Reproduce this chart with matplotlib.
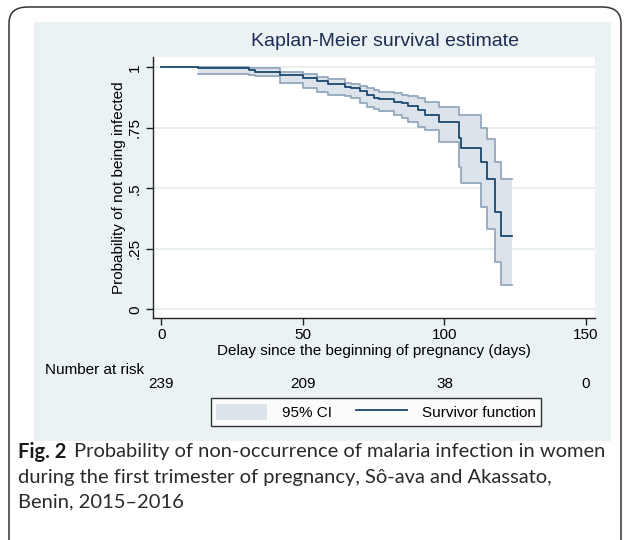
import numpy as np
import matplotlib
matplotlib.use("Agg")
import matplotlib.pyplot as plt
from matplotlib.patches import FancyBboxPatch, Rectangle
from matplotlib.lines import Line2D
import matplotlib.transforms as mtransforms

plt.rcParams['font.family'] = ['Liberation Sans', 'DejaVu Sans']

# ---- data ----
times = [0, 13, 31, 33, 42, 50, 55, 59, 65, 67, 70, 72.5, 75, 77, 82, 85, 87,
         90.5, 93, 98, 105, 106, 113, 115, 118, 120]
survival = [1.0, 0.996, 0.990, 0.983, 0.968, 0.957, 0.945, 0.930, 0.920, 0.913,
            0.903, 0.886, 0.873, 0.868, 0.858, 0.851, 0.840, 0.824, 0.805, 0.773,
            0.709, 0.665, 0.608, 0.538, 0.403, 0.303]
ci_lower = [np.nan, 0.971, 0.968, 0.965, 0.936, 0.916, 0.899, 0.886, 0.881, 0.872,
            0.854, 0.837, 0.830, 0.819, 0.803, 0.792, 0.775, 0.755, 0.743, 0.693,
            0.589, 0.523, 0.424, 0.333, 0.195, 0.100]
ci_upper = [np.nan, 1.0, 0.999, 0.997, 0.982, 0.972, 0.961, 0.950, 0.936, 0.932,
            0.923, 0.913, 0.905, 0.900, 0.893, 0.886, 0.880, 0.872, 0.858, 0.837,
            0.805, 0.803, 0.748, 0.702, 0.610, 0.537]
end_time = 124
risk_times = [0, 50, 100, 150]
risk_numbers = [239, 209, 38, 0]
x_ticks = [0, 50, 100, 150]
y_ticks = [0, 0.25, 0.5, 0.75, 1]
y_ticklabels = ["0", ".25", ".5", ".75", "1"]

NAVY = "#1a476f"
FILL = "#dde3ea"
EDGE = "#93a8bd"
PANEL = "#eaf2f3"

W, H = 627, 540
fig = plt.figure(figsize=(W / 100, H / 100), dpi=100)
fig.patch.set_facecolor("white")

# outer rounded frame
frame = FancyBboxPatch((9 / W, -20 / H), 612 / W, (H - 7 + 20) / H,
                       boxstyle="round,pad=0,rounding_size=0.03",
                       transform=fig.transFigure, facecolor="none",
                       edgecolor="#333333", linewidth=1.1, zorder=-2)
fig.patches.append(frame)
# stata graph region panel
panel = Rectangle((34 / W, 1 - 441 / H), (611 - 34) / W, (441 - 22) / H,
                  transform=fig.transFigure, facecolor=PANEL, edgecolor="none", zorder=-2)
fig.patches.append(panel)

ax = fig.add_axes([153 / W, 1 - 318 / H, (595 - 153) / W, (318 - 57) / H])
ax.set_zorder(2)
ax.set_facecolor("white")

t = np.array(times + [end_time], dtype=float)
s = np.array(survival + [survival[-1]])
lo = np.array(ci_lower + [ci_lower[-1]])
up = np.array(ci_upper + [ci_upper[-1]])

ax.fill_between(t[1:], lo[1:], up[1:], step="post", facecolor=FILL, edgecolor="none", zorder=2)
ax.step(t[1:], lo[1:], where="post", color=EDGE, lw=1.3, zorder=3)
ax.step(t[1:], up[1:], where="post", color=EDGE, lw=1.3, zorder=3)
ax.step(t, s, where="post", color=NAVY, lw=1.3, zorder=4)

ax.set_xlim(-3, 153.2)
ax.set_ylim(-0.036, 1.043)
ax.set_xticks(x_ticks)
ax.set_yticks(y_ticks)
ax.set_yticklabels(y_ticklabels, rotation=90, va="center")
ax.grid(axis="y", color="#e3ecee", lw=1.2, zorder=1)
ax.set_axisbelow(True)
for side in ["top", "right"]:
    ax.spines[side].set_visible(False)
for side in ["left", "bottom"]:
    ax.spines[side].set_color("#222222")
    ax.spines[side].set_linewidth(1.0)
ax.tick_params(axis="both", labelsize=11, color="#222222", length=5, width=1.0)
ax.tick_params(axis="x", pad=2)
ax.tick_params(axis="y", pad=3)
ax.set_xlabel("Delay since the beginning of pregnancy (days)", fontsize=11, labelpad=2)
ax.set_ylabel("Probability of not being infected", fontsize=11, labelpad=1)

fig.text(385 / W, 1 - 42 / H, "Kaplan-Meier survival estimate", fontsize=14,
         color="#1e2d53", ha="center", va="center")

# number at risk table
fig.text(45 / W, 1 - 370 / H, "Number at risk", fontsize=11, ha="left", va="center")
trans = mtransforms.blended_transform_factory(ax.transData, fig.transFigure)
for rt, rn in zip(risk_times, risk_numbers):
    fig.text(rt, 1 - 384 / H, str(rn), transform=trans, fontsize=11, ha="center", va="center")

# legend
handles = [Rectangle((0, 0), 1, 1, facecolor=FILL, edgecolor="none"),
           Line2D([0], [0], color=NAVY, lw=1.3)]
leg = fig.legend(handles, ["95% CI", "Survivor function"], loc="center",
                 bbox_to_anchor=(376 / W, 1 - 412 / H), ncol=2, fontsize=11,
                 frameon=True, fancybox=False, edgecolor="black",
                 handlelength=3.3, handleheight=1.3, columnspacing=1.6,
                 borderpad=0.35, handletextpad=1.0)
leg.get_frame().set_linewidth(1.0)

# caption
cap_font = ['Lato', 'DejaVu Sans']
cap_color = "#2a2a2a"
fig.text(18 / W, 1 - 452 / H, "Fig. 2", fontsize=14.5, fontweight="bold",
         ha="left", va="center", family=cap_font, color="#1a1a1a")
fig.text(74 / W, 1 - 452 / H,
         "Probability of non-occurrence of malaria infection in women",
         fontsize=14.5, ha="left", va="center", family=cap_font, color=cap_color)
fig.text(18 / W, 1 - 477 / H,
         "during the first trimester of pregnancy, Sô-ava and Akassato,",
         fontsize=14.5, ha="left", va="center", family=cap_font, color=cap_color)
fig.text(18 / W, 1 - 502 / H, "Benin, 2015–2016",
         fontsize=14.5, ha="left", va="center", family=cap_font, color=cap_color)

fig.savefig("out.png", dpi=100)
